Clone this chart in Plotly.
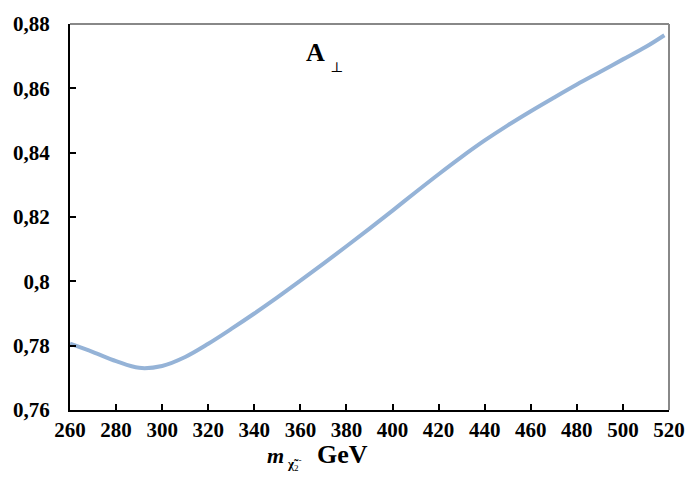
import plotly.graph_objects as go

mass = [260, 270, 280, 290, 300, 310, 320, 330, 340, 350, 360, 370, 380, 390,
        400, 410, 420, 430, 440, 450, 460, 470, 480, 490, 500, 510, 518]
a_perp = [0.7806, 0.7780, 0.7752, 0.7731, 0.7737, 0.7765, 0.7806, 0.7852, 0.7900,
          0.7950, 0.8002, 0.8055, 0.8109, 0.8164, 0.8220, 0.8277, 0.8333, 0.8387,
          0.8438, 0.8485, 0.8529, 0.8571, 0.8612, 0.8651, 0.8690, 0.8729, 0.8765]

x_ticks = list(range(260, 521, 20))
y_ticks = [0.76, 0.78, 0.80, 0.82, 0.84, 0.86, 0.88]
y_tick_labels = ["0,76", "0,78", "0,8", "0,82", "0,84", "0,86", "0,88"]

fig = go.Figure()
fig.add_trace(go.Scatter(x=mass, y=a_perp, mode="lines",
                         line=dict(color="#95b3d7", width=4, shape="spline", smoothing=1.0),
                         showlegend=False))

tick_font = dict(family="Liberation Serif", size=21, color="black")
fig.update_layout(
    width=697, height=481,
    margin=dict(l=70, r=19, t=13, b=71),
    paper_bgcolor="white", plot_bgcolor="white",
    xaxis=dict(range=[260, 520], tickvals=x_ticks,
               ticktext=[f"<b>{v}</b>" for v in x_ticks],
               showline=True, linecolor="black", linewidth=2,
               ticks="inside", ticklen=6, tickwidth=1.5, tickcolor="black",
               showgrid=False, zeroline=False, tickfont=tick_font),
    yaxis=dict(range=[0.76, 0.88], tickvals=y_ticks,
               ticktext=[f"<b>{t}</b>" for t in y_tick_labels],
               showline=True, linecolor="black", linewidth=2,
               ticks="inside", ticklen=6, tickwidth=1.5, tickcolor="black",
               showgrid=False, zeroline=False, tickfont=tick_font,
               ticklabelstandoff=14),
    shapes=[
        dict(type="line", xref="paper", yref="paper", x0=0, x1=1, y0=1, y1=1,
             line=dict(color="#888888", width=2)),
        dict(type="line", xref="paper", yref="paper", x0=1, x1=1, y0=0, y1=1,
             line=dict(color="#888888", width=2)),
    ],
    annotations=[
        dict(text="<b>A</b>", x=319, y=42, showarrow=False,
             font=dict(family="Liberation Serif", size=26, color="black")),
        dict(text="⊥", x=341, y=57, showarrow=False,
             font=dict(family="DejaVu Serif", size=14, color="black")),
        dict(text="<b><i>m</i></b>", x=279, y=457, showarrow=False,
             font=dict(family="Liberation Serif", size=22, color="black")),
        dict(text="<b>χ̃</b><sub>2</sub><sup>-</sup>", x=298, y=466, showarrow=False,
             font=dict(family="Liberation Serif", size=13, color="black")),
        dict(text="<b>GeV</b>", x=347, y=456, showarrow=False,
             font=dict(family="Liberation Serif", size=26, color="black")),
    ],
)

# annotation positions given in pixels -> convert to paper coords
W, H = 697, 481
L, R, T, B = 70, 19, 13, 71
pw, ph = W - L - R, H - T - B
new_ann = []
for a in fig.layout.annotations:
    a = a.to_plotly_json()
    px, py = a["x"], a["y"]
    a["xref"], a["yref"] = "paper", "paper"
    a["x"] = (px - L) / pw
    a["y"] = (H - B - py) / ph
    a["xanchor"], a["yanchor"] = "center", "middle"
    new_ann.append(a)
fig.layout.annotations = new_ann

fig.write_html("out.html")
